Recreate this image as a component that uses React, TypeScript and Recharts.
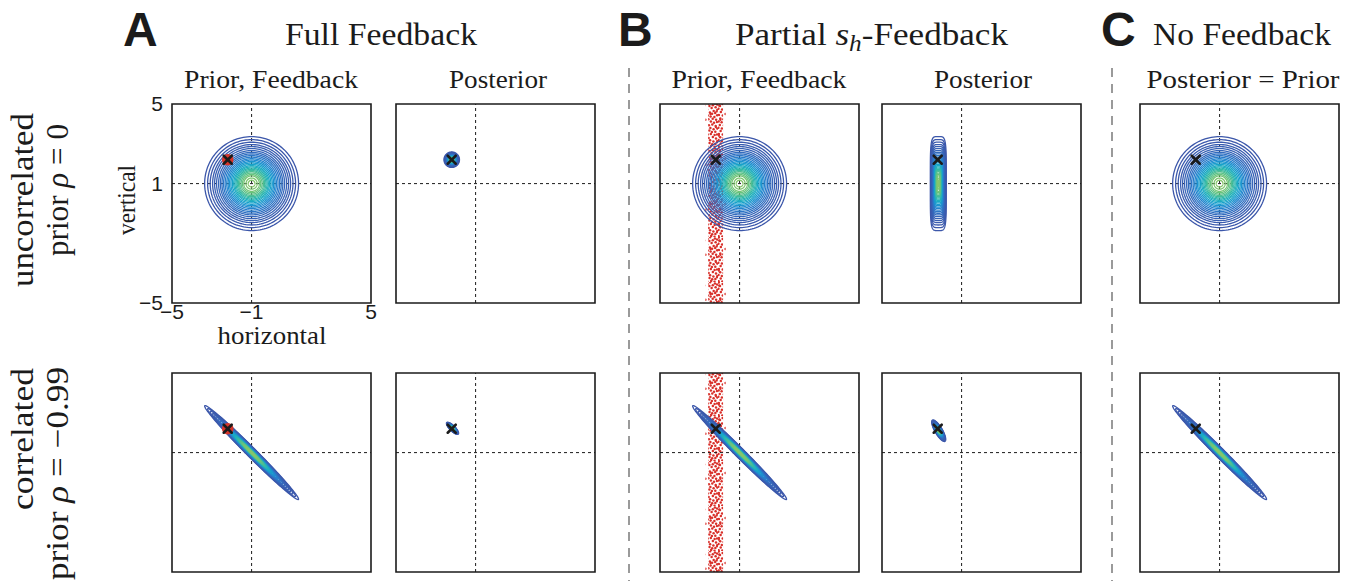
import React from "react";
import { ScatterChart, Scatter, XAxis, YAxis, ReferenceLine, ReferenceArea } from "recharts";

// prior contour radii (outer -> inner)
const ringRadii = [
  2.36, 2.21, 2.08, 1.96, 1.86, 1.76, 1.66, 1.57, 1.49, 1.41, 1.33, 1.25, 1.18, 1.11,
  1.04, 0.97, 0.9, 0.84, 0.78, 0.72, 0.66, 0.6, 0.53, 0.46, 0.39, 0.28, 0.17,
];
const ringColors = [
  "#3c57aa", "#3c58ab", "#3b5aad", "#3a5caf", "#395fb2", "#3862b5", "#3666b9", "#336bbd",
  "#3070c2", "#2c76c6", "#297cca", "#2583cd", "#218bcf", "#1d93cf", "#1a9bcd", "#19a2c9",
  "#1ba9c3", "#21afbc", "#29b4b3", "#33b8a9", "#3fbb9e", "#4dbe93", "#5bc188", "#68c37e",
  "#74c475", "#7ec56f", "#86c66b",
];
const priorMean = { x: -1, y: 1 };
const stimulus = [{ x: -2.2, y: 2.2 }];
const feedbackCore = [-2.58, -1.83];
const feedbackFringe = [-2.72, -1.7];
const xTicks = [-5, -1, 5];
const yTicks = [-5, 1, 5];

type Blob = { cx: number; cy: number; rho: number; sx: number; sy: number; pow?: number };

// contour sets: priors and the posteriors they turn into
const priorUncorr: Blob = { cx: -1, cy: 1, rho: 0, sx: 1, sy: 1 };
const priorCorr: Blob = { cx: -1, cy: 1, rho: -0.99, sx: 1, sy: 1 };
const postFullUncorr: Blob = { cx: -2.2, cy: 2.2, rho: 0, sx: 0.165, sy: 0.165 };
const postFullCorr: Blob = { cx: -2.16, cy: 2.22, rho: -0.8, sx: 0.13, sy: 0.13 };
const postPartUncorr: Blob = { cx: -2.17, cy: 1, rho: 0, sx: 0.17, sy: 1, pow: 5 };
const postPartCorr: Blob = { cx: -2.15, cy: 2.1, rho: -0.8, sx: 0.15, sy: 0.23 };

const serif = "'Liberation Serif', 'Times New Roman', serif";
const sans = "'Liberation Sans', Arial, sans-serif";
const ink = "#1b1b1b";

function ring(b: Blob, r: number) {
  const a1 = Math.sqrt(1 + b.rho);
  const a2 = Math.sqrt(1 - b.rho);
  const pts: { x: number; y: number }[] = [];
  const n = 140;
  for (let i = 0; i <= n; i++) {
    const t = (i / n) * 2 * Math.PI;
    let c = Math.cos(t);
    let s = Math.sin(t);
    if (b.pow) {
      c = Math.sign(c) * Math.pow(Math.abs(c), 2 / b.pow);
      s = Math.sign(s) * Math.pow(Math.abs(s), 2 / b.pow);
    }
    let dx = r * c;
    let dy = r * s;
    if (b.rho !== 0) {
      const u = r * c * a1;
      const v = r * s * a2;
      dx = (u + v) / Math.SQRT2;
      dy = (u - v) / Math.SQRT2;
    }
    pts.push({ x: b.cx + b.sx * dx, y: b.cy + b.sy * dy });
  }
  return pts;
}

const NoDot = () => <g />;
const RedDot = (p: any) => <circle cx={p.cx} cy={p.cy} r={5.8} fill="#d8352a" />;
const Cross = (p: any) => (
  <g stroke={ink} strokeWidth={2.6} strokeLinecap="round">
    <line x1={p.cx - 4} y1={p.cy - 4} x2={p.cx + 4} y2={p.cy + 4} />
    <line x1={p.cx - 4} y1={p.cy + 4} x2={p.cx + 4} y2={p.cy - 4} />
  </g>
);
const minus = (v: number) => (v < 0 ? `\u2212${-v}` : `${v}`);

// stipple tiles standing in for the s_h feedback sample cloud
const coreTile = [
  [0.8, 0.6], [4.6, 1.9], [7.2, 0.3], [11.9, 1.4], [14.1, 2.6], [2.0, 3.9], [6.4, 4.1],
  [9.8, 3.2], [12.6, 5.3], [0.4, 6.8], [4.1, 7.4], [8.6, 6.1], [10.7, 8.9], [14.4, 7.7],
  [2.9, 9.9], [6.9, 10.6], [9.1, 11.8], [12.2, 11.0], [0.9, 12.9], [4.8, 13.6], [7.6, 14.4],
  [11.4, 14.9], [14.2, 13.3], [2.3, 16.4], [5.4, 17.2], [9.7, 16.7], [13.1, 17.8], [0.6, 19.4],
  [3.6, 20.2], [7.9, 19.6], [11.0, 20.8], [14.0, 20.0], [1.8, 22.9], [5.9, 23.3], [9.3, 22.4],
  [12.7, 24.1], [0.3, 25.8], [3.9, 26.4], [7.4, 25.9], [10.6, 27.2], [14.3, 26.6], [2.6, 29.0],
  [6.3, 28.6], [8.9, 30.1], [12.3, 29.7], [0.9, 31.9], [4.7, 32.6], [7.8, 32.0], [11.6, 33.1],
  [14.1, 32.4], [2.2, 35.2], [5.6, 35.9], [9.9, 35.1], [13.0, 36.4], [0.5, 38.1], [3.8, 38.9],
  [7.1, 38.3], [10.4, 39.4], [14.4, 38.9], [2.7, 41.5], [6.5, 41.0], [9.2, 42.3], [12.4, 41.9],
  [0.7, 44.2], [4.3, 44.6], [8.1, 44.0], [11.5, 44.8],
];
const fringeTile = [
  [1.2, 3.5], [13.6, 9.4], [2.4, 17.8], [12.9, 25.1], [0.8, 33.6], [14.0, 40.2], [7.5, 12.0],
];

function Panel({ left, top, blob, feedback, redDot, axes }: {
  left: number; top: number; blob: Blob; feedback?: boolean; redDot?: boolean; axes?: boolean;
}) {
  const m = axes ? { top: 14, right: 14, bottom: 0, left: 0 } : { top: 2, right: 2, bottom: 2, left: 2 };
  const yw = axes ? 60 : 0;
  const xh = axes ? 40 : 0;
  const width = 199 + m.left + m.right + yw;
  const height = 199 + m.top + m.bottom + xh;
  const tick = { fontSize: 21, fontFamily: sans, fill: ink };
  return (
    <div style={{ position: "absolute", left: left - m.left - yw, top: top - m.top }}>
      <ScatterChart width={width} height={height} margin={m}>
        <XAxis type="number" dataKey="x" domain={[-5, 5]} allowDataOverflow ticks={xTicks}
          hide={!axes} height={xh} axisLine={false} tickLine={false} tickSize={0} tickMargin={1}
          tick={tick} tickFormatter={minus} interval={0} />
        <YAxis type="number" dataKey="y" domain={[-5, 5]} allowDataOverflow ticks={yTicks}
          hide={!axes} width={yw} axisLine={false} tickLine={false} tickSize={0} tickMargin={9}
          tick={tick} tickFormatter={minus} interval={0} />
        {ringRadii.map((r, i) => (
          <Scatter key={i} data={ring(blob, r)} line={{ stroke: ringColors[i], strokeWidth: 1.3 }}
            shape={NoDot} isAnimationActive={false} />
        ))}
        <ReferenceLine x={priorMean.x} stroke={ink} strokeWidth={1} strokeDasharray="3 3" />
        <ReferenceLine y={priorMean.y} stroke={ink} strokeWidth={1} strokeDasharray="3 3" />
        {feedback && (
          <ReferenceArea x1={feedbackFringe[0]} x2={feedbackFringe[1]} y1={-5} y2={5}
            fill="url(#fbfringe)" fillOpacity={1} stroke="none" />
        )}
        {feedback && (
          <ReferenceArea x1={feedbackCore[0]} x2={feedbackCore[1]} y1={-5} y2={5}
            fill="url(#fbdots)" fillOpacity={1} stroke="none" />
        )}
        {redDot && <Scatter data={stimulus} shape={RedDot} isAnimationActive={false} />}
        <Scatter data={stimulus} shape={Cross} isAnimationActive={false} />
        <ReferenceArea x1={-5} x2={5} y1={-5} y2={5} fill="none" stroke={ink} strokeWidth={1.6} />
      </ScatterChart>
    </div>
  );
}

const cols = [172, 396, 660, 882, 1140];
const rows = [104, 373];

export default function App() {
  return (
    <div style={{ position: "absolute", left: 0, top: 0, width: 1349, height: 581, background: "#fff", overflow: "hidden" }}>
      <svg width={0} height={0} style={{ position: "absolute" }}>
        <defs>
          <pattern id="fbdots" patternUnits="userSpaceOnUse" width={15} height={45}>
            {coreTile.map(([x, y], i) => (
              <circle key={i} cx={x} cy={y} r={1.25} fill="#d8302a" />
            ))}
          </pattern>
          <pattern id="fbfringe" patternUnits="userSpaceOnUse" width={15} height={45}>
            {fringeTile.map(([x, y], i) => (
              <circle key={i} cx={x} cy={y} r={1.2} fill="#d8302a" />
            ))}
          </pattern>
        </defs>
      </svg>

      <Panel left={cols[0]} top={rows[0]} blob={priorUncorr} redDot axes />
      <Panel left={cols[1]} top={rows[0]} blob={postFullUncorr} />
      <Panel left={cols[2]} top={rows[0]} blob={priorUncorr} feedback />
      <Panel left={cols[3]} top={rows[0]} blob={postPartUncorr} />
      <Panel left={cols[4]} top={rows[0]} blob={priorUncorr} />

      <Panel left={cols[0]} top={rows[1]} blob={priorCorr} redDot />
      <Panel left={cols[1]} top={rows[1]} blob={postFullCorr} />
      <Panel left={cols[2]} top={rows[1]} blob={priorCorr} feedback />
      <Panel left={cols[3]} top={rows[1]} blob={postPartCorr} />
      <Panel left={cols[4]} top={rows[1]} blob={priorCorr} />

      <svg width={1349} height={581} style={{ position: "absolute", left: 0, top: 0, pointerEvents: "none" }}>
        <line x1={629} y1={68} x2={629} y2={581} stroke="#9a9a9a" strokeWidth={2} strokeDasharray="9 7" />
        <line x1={1112} y1={68} x2={1112} y2={581} stroke="#9a9a9a" strokeWidth={2} strokeDasharray="9 7" />

        <g fontFamily={sans} fontWeight="bold" fontSize={48} fill={ink}>
          <text x={123} y={46}>A</text>
          <text x={618} y={46}>B</text>
          <text x={1101} y={46}>C</text>
        </g>
        <g fontFamily={serif} fontSize={32} fill={ink}>
          <text x={285} y={45} textLength={192} lengthAdjust="spacingAndGlyphs">Full Feedback</text>
          <text x={735} y={45} textLength={273} lengthAdjust="spacingAndGlyphs">
            Partial <tspan fontStyle="italic">s</tspan>
            <tspan fontStyle="italic" fontSize={23} dy={6}>h</tspan>
            <tspan dy={-6}>-Feedback</tspan>
          </text>
          <text x={1153} y={45} textLength={178} lengthAdjust="spacingAndGlyphs">No Feedback</text>
        </g>
        <g fontFamily={serif} fontSize={25} fill={ink} textAnchor="middle">
          <text x={271} y={88} textLength={174} lengthAdjust="spacingAndGlyphs">Prior, Feedback</text>
          <text x={498} y={88} textLength={98} lengthAdjust="spacingAndGlyphs">Posterior</text>
          <text x={759} y={88} textLength={175} lengthAdjust="spacingAndGlyphs">Prior, Feedback</text>
          <text x={983} y={88} textLength={98} lengthAdjust="spacingAndGlyphs">Posterior</text>
          <text x={1243} y={88} textLength={193} lengthAdjust="spacingAndGlyphs">Posterior = Prior</text>
          <text x={272} y={344} textLength={109} lengthAdjust="spacingAndGlyphs">horizontal</text>
          <text x={135} y={200} transform="rotate(-90 135 200)" textLength={70} lengthAdjust="spacingAndGlyphs">vertical</text>
        </g>
        <g fontFamily={serif} fontSize={31} fill={ink}>
          <text x={33} y={287} transform="rotate(-90 33 287)" textLength={174} lengthAdjust="spacingAndGlyphs">uncorrelated</text>
          <text x={68} y={256} transform="rotate(-90 68 256)" textLength={132} lengthAdjust="spacingAndGlyphs">
            prior <tspan fontStyle="italic">ρ</tspan> = 0
          </text>
          <text x={33} y={510} transform="rotate(-90 33 510)" textLength={142} lengthAdjust="spacingAndGlyphs">correlated</text>
          <text x={68} y={580} transform="rotate(-90 68 580)" textLength={213} lengthAdjust="spacingAndGlyphs">
            prior <tspan fontStyle="italic">ρ</tspan> = −0.99
          </text>
        </g>
      </svg>
    </div>
  );
}
